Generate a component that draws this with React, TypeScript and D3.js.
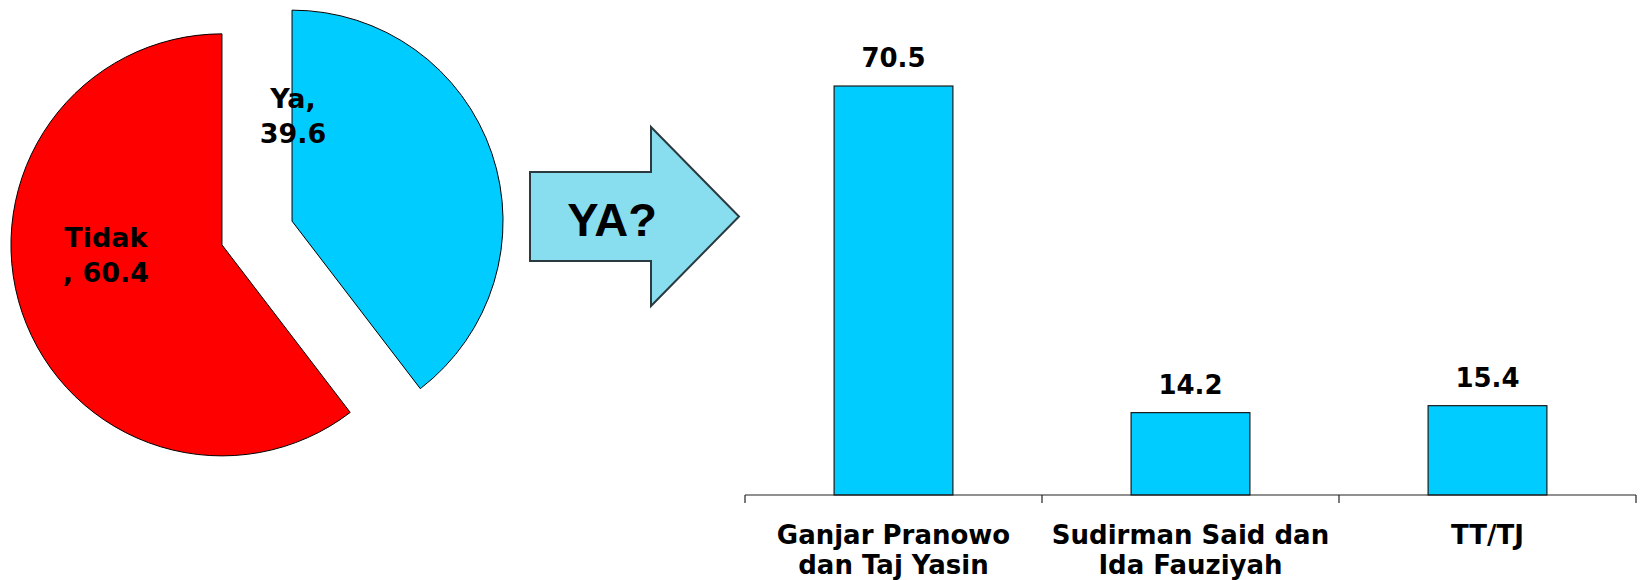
import React from "react";
import * as d3 from "d3";

// ---- data ----
const pieLabels = ["Ya", "Tidak"];
const pieValues = [39.6, 60.4];
const pieColors = ["#00CCFF", "#FF0000"];

const barCategories = ["Ganjar Pranowo|dan Taj Yasin", "Sudirman Said dan|Ida Fauziyah", "TT/TJ"];
const barValues = [70.5, 14.2, 15.4];

const arrowText = "YA?";

// ---- layout ----
const W = 1642;
const H = 580;
const pieCenter = { x: 257, y: 233 };
const pieRadius = 211;
const explode = 37;
// label anchor offsets relative to each (exploded) slice center
const pieLabelOffsets = [
  { dx: 1, dy: -113 },
  { dx: -116, dy: 2 },
];

const FONT = "'DejaVu Sans', Verdana, sans-serif";

export default function App() {
  const pie = d3
    .pie<number>()
    .sort(null)
    .value((d) => d)
    .startAngle(0)
    .endAngle(2 * Math.PI);
  const arcs = pie(pieValues);
  const arcGen = d3.arc<d3.PieArcDatum<number>>().innerRadius(0).outerRadius(pieRadius);

  const x = d3
    .scaleBand<string>()
    .domain(barCategories)
    .range([745, 1636])
    .paddingInner(0.6)
    .paddingOuter(0.3);
  const y = d3.scaleLinear().domain([0, 80]).range([495, 30.9]);
  const step = x.step();
  const tickXs = [0, 1, 2, 3].map((i) => 745 + i * step);

  const arrowPts = [
    [530, 172],
    [651, 172],
    [651, 127],
    [739, 216.5],
    [651, 306],
    [651, 261],
    [530, 261],
  ];

  return (
    <svg
      width={W}
      height={H}
      style={{ position: "absolute", left: 0, top: 0, background: "#fff" }}
    >
      {/* Pie */}
      {arcs.map((a, i) => {
        const mid = (a.startAngle + a.endAngle) / 2;
        const cx = pieCenter.x + explode * Math.sin(mid);
        const cy = pieCenter.y - explode * Math.cos(mid);
        const off = pieLabelOffsets[i];
        const lx = cx + off.dx;
        const ly = cy + off.dy;
        const l1 = i === 0 ? `${pieLabels[i]},` : pieLabels[i];
        const l2 = i === 0 ? `${pieValues[i].toFixed(1)}` : `, ${pieValues[i].toFixed(1)}`;
        return (
          <g key={i}>
            <path
              d={arcGen(a) || ""}
              transform={`translate(${cx},${cy})`}
              fill={pieColors[i]}
              stroke="#000"
              strokeWidth={1}
            />
            <text
              x={lx}
              y={ly}
              textAnchor="middle"
              fontFamily={FONT}
              fontWeight="bold"
              fontSize={27}
              fill="#000"
            >
              <tspan x={lx} dy={0}>{l1}</tspan>
              <tspan x={lx} dy={35}>{l2}</tspan>
            </text>
          </g>
        );
      })}

      {/* Arrow */}
      <polygon
        points={arrowPts.map((p) => p.join(",")).join(" ")}
        fill="#88DDEE"
        stroke="#2A3A3E"
        strokeWidth={2}
      />
      <text
        x={612}
        y={236}
        textAnchor="middle"
        fontFamily="'Liberation Sans', Arial, sans-serif"
        fontWeight="bold"
        fontSize={47}
        fill="#000"
      >
        {arrowText}
      </text>

      {/* Bars */}
      {barCategories.map((c, i) => (
        <g key={c}>
          <rect
            x={x(c)}
            y={y(barValues[i])}
            width={x.bandwidth()}
            height={y(0) - y(barValues[i])}
            fill="#00CCFF"
            stroke="#1a1a1a"
            strokeWidth={1.2}
          />
          <text
            x={(x(c) || 0) + x.bandwidth() / 2}
            y={y(barValues[i]) - 19}
            textAnchor="middle"
            fontFamily={FONT}
            fontWeight="bold"
            fontSize={26}
            fill="#000"
          >
            {barValues[i].toFixed(1)}
          </text>
          <text
            textAnchor="middle"
            fontFamily={FONT}
            fontWeight="bold"
            fontSize={26}
            fill="#000"
          >
            {c.split("|").map((line, j) => (
              <tspan key={j} x={(x(c) || 0) + x.bandwidth() / 2} y={544 + j * 30}>
                {line}
              </tspan>
            ))}
          </text>
        </g>
      ))}

      {/* Axis */}
      <line x1={745} x2={1636} y1={y(0)} y2={y(0)} stroke="#222" strokeWidth={1.2} />
      {tickXs.map((tx, i) => (
        <line key={i} x1={tx} x2={tx} y1={y(0)} y2={y(0) + 8} stroke="#222" strokeWidth={1.2} />
      ))}
    </svg>
  );
}
